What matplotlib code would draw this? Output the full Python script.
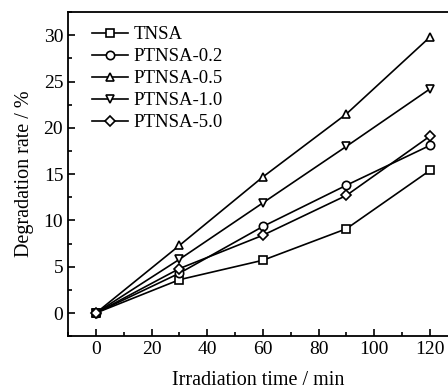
import matplotlib
matplotlib.use("Agg")
import matplotlib.pyplot as plt
from matplotlib.ticker import MultipleLocator

plt.rcParams['font.family'] = ['Liberation Serif', 'DejaVu Serif']

time_min = [0, 30, 60, 90, 120]
tnsa = [0, 3.6, 5.7, 9.1, 15.4]
ptnsa_02 = [0, 4.3, 9.35, 13.8, 18.1]
ptnsa_05 = [0, 7.3, 14.7, 21.5, 29.8]
ptnsa_10 = [0, 5.8, 11.9, 18.0, 24.2]
ptnsa_50 = [0, 4.8, 8.4, 12.7, 19.1]

series = [
    ("TNSA", tnsa, "s"),
    ("PTNSA-0.2", ptnsa_02, "o"),
    ("PTNSA-0.5", ptnsa_05, "^"),
    ("PTNSA-1.0", ptnsa_10, "v"),
    ("PTNSA-5.0", ptnsa_50, "D"),
]

fig = plt.figure(figsize=(4.48, 3.9), dpi=100)
ax = fig.add_axes([0.152, 0.138, 0.848, 0.831])

for name, vals, m in series:
    ms = 5 if m == "D" else 6
    ax.plot(time_min, vals, color="black", lw=1.2, marker=m, ms=ms,
            mfc="white", mec="black", mew=1.2, label=name)

ax.set_xlim(-10, 126.5)
ax.set_ylim(-2.5, 32.5)
ax.xaxis.set_major_locator(MultipleLocator(20))
ax.xaxis.set_minor_locator(MultipleLocator(10))
ax.yaxis.set_major_locator(MultipleLocator(5))
ax.yaxis.set_minor_locator(MultipleLocator(2.5))
ax.tick_params(which="both", direction="in", labelsize=14, width=1.2)
ax.tick_params(which="major", length=5)
ax.tick_params(which="minor", length=3)
ax.spines["right"].set_visible(False)
for s in ["left", "bottom", "top"]:
    ax.spines[s].set_linewidth(1.3)

ax.set_xlabel("Irradiation time / min", fontsize=14.5, labelpad=9)
ax.set_ylabel("Degradation rate / %", fontsize=14.5, labelpad=7)

ax.legend(loc="upper left", bbox_to_anchor=(0.043, 0.98), frameon=False,
          fontsize=13.5, handlelength=1.95, handletextpad=0.27,
          labelspacing=0.26, borderaxespad=0)

fig.savefig("out.png", dpi=100)
